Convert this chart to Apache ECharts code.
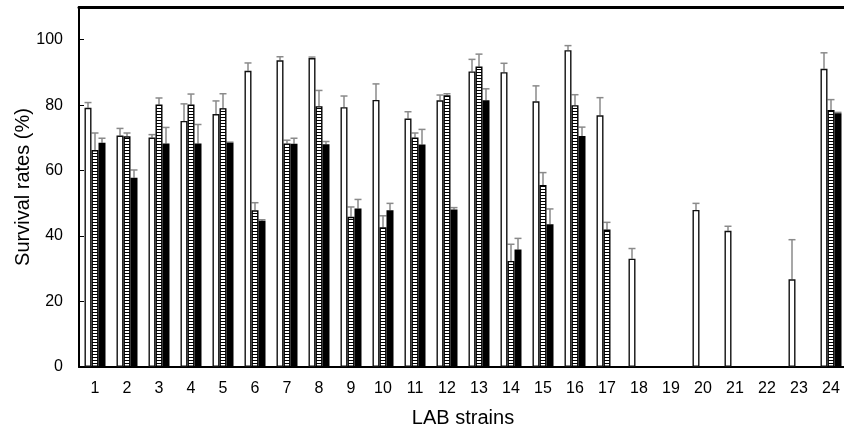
<!DOCTYPE html>
<html>
<head>
<meta charset="utf-8">
<script src="https://cdn.jsdelivr.net/npm/echarts@6/dist/echarts.min.js"></script>
<style>html,body{margin:0;padding:0;background:#fff}#c{width:844px;height:430px}</style>
</head>
<body>
<div id="c"></div>
<script>
const categories = ['1','2','3','4','5','6','7','8','9','10','11','12','13','14','15','16','17','18','19','20','21','22','23','24'];
const whiteVals = [79.2,70.7,70.1,75.2,77.3,90.5,93.7,94.4,79.4,81.6,75.9,81.5,90.3,90.1,81.2,96.8,76.9,33.1,null,48.0,41.6,null,26.8,91.1];
const whiteSD   = [1.6,2.2,0.9,5.2,4.0,2.4,1.1,0.3,3.4,4.9,2.1,1.6,3.7,2.7,4.7,1.4,5.4,3.1,null,2.0,1.4,null,12.1,4.9];
const hatchVals = [66.3,70.5,80.2,80.2,79.1,47.9,68.3,79.7,45.9,42.7,70.1,83.0,91.8,32.4,55.6,80.0,42.0,null,null,null,null,null,null,78.5];
const hatchSD   = [5.2,1.0,2.0,3.2,4.4,2.3,1.0,4.8,3.0,3.5,1.4,0.5,3.8,5.1,3.8,3.2,2.2,null,null,null,null,null,null,3.2];
const blackVals = [68.5,57.8,68.3,68.3,68.5,44.7,68.2,68.1,48.4,47.9,68.0,48.1,81.5,35.9,43.6,70.6,null,null,null,null,null,null,null,77.5];
const blackSD   = [1.4,2.4,4.9,5.8,0.2,0.3,1.7,0.8,2.8,2.1,4.6,0.6,3.5,3.4,4.7,2.7,null,null,null,null,null,null,null,0.3];
const yTicks = [0,20,40,60,80,100];

const BW = 7;
const pat = document.createElement('canvas');
pat.width = 4; pat.height = 3;
const pc = pat.getContext('2d');
pc.fillStyle = '#fff'; pc.fillRect(0,0,4,3);
pc.fillStyle = '#000'; pc.fillRect(0,0,4,1);

function errSeries(vals, sds, offset) {
  return {
    type: 'custom',
    z: 1,
    silent: true,
    data: vals.map((v,i) => (v == null || sds[i] == null) ? null : [i, v, v + sds[i]]),
    renderItem: function (params, api) {
      const i = api.value(0);
      const p0 = api.coord([i, api.value(1)]);
      const p1 = api.coord([i, api.value(2)]);
      const x = p0[0] + offset;
      const st = {stroke: '#8a8a8a', lineWidth: 1.5};
      return {type: 'group', children: [
        {type: 'line', shape: {x1: x, y1: p0[1], x2: x, y2: p1[1]}, style: st},
        {type: 'line', shape: {x1: x - 3.5, y1: p1[1], x2: x + 3.5, y2: p1[1]}, style: st}
      ]};
    }
  };
}

const chart = echarts.init(document.getElementById('c'), null, {renderer: 'canvas'});
chart.setOption({
  animation: false,
  backgroundColor: '#fff',
  grid: {left: 79, right: -3, top: 7, bottom: 63, containLabel: false, outerBoundsMode: 'none'},
  xAxis: [{
    type: 'category',
    data: categories,
    axisLine: {lineStyle: {color: '#000', width: 2}},
    axisTick: {show: false},
    axisLabel: {color: '#000', fontSize: 16, fontFamily: 'Liberation Sans', margin: 14},
    name: 'LAB strains',
    nameLocation: 'middle',
    nameGap: 41,
    nameMoveOverlap: false,
    nameTextStyle: {color: '#000', fontSize: 20, fontFamily: 'Liberation Sans'}
  }, {
    type: 'category',
    position: 'top',
    data: categories,
    axisLine: {lineStyle: {color: '#000', width: 3}},
    axisTick: {show: false},
    axisLabel: {show: false}
  }],
  yAxis: {
    type: 'value',
    min: 0, max: 110, interval: 20,
    axisLine: {show: true, lineStyle: {color: '#000', width: 2}},
    axisTick: {show: true, inside: true, length: 5, lineStyle: {color: '#000', width: 1}},
    splitLine: {show: false},
    axisLabel: {color: '#000', fontSize: 16, fontFamily: 'Liberation Sans', margin: 16,
      formatter: v => yTicks.indexOf(v) >= 0 ? String(v) : ''},
    name: 'Survival rates (%)',
    nameLocation: 'middle',
    nameGap: 46,
    nameMoveOverlap: false,
    nameTextStyle: {color: '#000', fontSize: 20, fontFamily: 'Liberation Sans'}
  },
  series: [
    {type: 'bar', data: whiteVals, barWidth: BW, barGap: '0%', z: 2,
      itemStyle: {color: '#fff', borderColor: '#111', borderWidth: 1.4}},
    {type: 'bar', data: hatchVals, barWidth: BW, barGap: '0%', z: 2,
      itemStyle: {color: {image: pat, repeat: 'repeat'}, borderColor: '#000', borderWidth: 1.4}},
    {type: 'bar', data: blackVals, barWidth: BW, barGap: '0%', z: 2,
      itemStyle: {color: '#000', borderColor: '#000', borderWidth: 0}},
    errSeries(whiteVals, whiteSD, -BW),
    errSeries(hatchVals, hatchSD, 0),
    errSeries(blackVals, blackSD, BW)
  ]
});
</script>
</body>
</html>
